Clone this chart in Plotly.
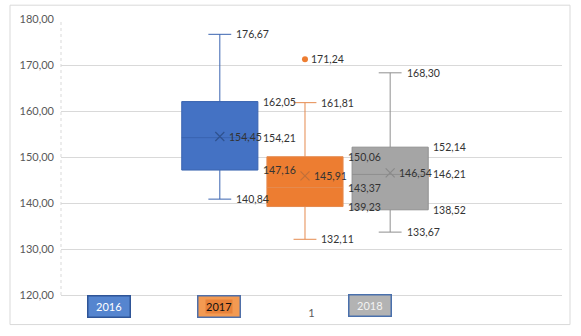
import plotly.graph_objects as go

# ---- data ----
series_names = ["2016", "2017", "2018"]
category = ["1"]
upper_whisker = [176.67, 161.81, 168.30]
q3_values = [162.05, 150.06, 152.14]
median_values = [154.21, 143.37, 146.21]
mean_values = [154.45, 145.91, 146.54]
q1_values = [147.16, 139.23, 138.52]
lower_whisker = [140.84, 132.11, 133.67]
outlier_series = ["2017"]
outlier_values = [171.24]
y_ticks = [120, 130, 140, 150, 160, 170, 180]

# ---- styles / layout ----
fill_colors = ["#4472C4", "#ED7D31", "#A5A5A5"]
line_colors = ["#3A64B0", "#E58A4E", "#8F8F8F"]
mean_colors = ["#2F528F", "#C0703A", "#8A8A8A"]
offsets = [-0.17, 0.0, 0.17]
group_center = -0.013
box_width = 0.152
whisker_frac = 0.3
FONT = "Lato"
LABEL_COLOR = "#333333"
LABEL_SIZE = 10.5

def fmt(v):
    return f"{v:.2f}".replace(".", ",")

fig = go.Figure()
annotations = []

for i, name in enumerate(series_names):
    cx = group_center + offsets[i]
    fig.add_trace(go.Box(
        x=[cx], q1=[q1_values[i]], median=[median_values[i]], q3=[q3_values[i]],
        lowerfence=[lower_whisker[i]], upperfence=[upper_whisker[i]],
        name=name, width=box_width, whiskerwidth=whisker_frac,
        fillcolor=fill_colors[i], line=dict(color=line_colors[i], width=1),
        boxpoints=False, showlegend=False, hoverinfo="skip",
    ))
    fig.add_trace(go.Scatter(
        x=[cx], y=[mean_values[i]], mode="markers",
        marker=dict(symbol="x-thin", size=9, line=dict(color=mean_colors[i], width=1.2)),
        showlegend=False, hoverinfo="skip",
    ))
    box_right = cx + box_width / 2
    cap_right = cx + box_width * whisker_frac / 2
    for v in (upper_whisker[i], lower_whisker[i]):
        annotations.append(dict(x=cap_right, y=v, xref="x", yref="y", text=fmt(v),
                                xanchor="left", yanchor="middle", xshift=3, showarrow=False))
    for v in (q3_values[i], median_values[i], q1_values[i]):
        annotations.append(dict(x=box_right, y=v, xref="x", yref="y", text=fmt(v),
                                xanchor="left", yanchor="middle", xshift=3, showarrow=False))
    annotations.append(dict(x=cx, y=mean_values[i], xref="x", yref="y", text=fmt(mean_values[i]),
                            xanchor="left", yanchor="middle", xshift=7, showarrow=False))

for name, v in zip(outlier_series, outlier_values):
    i = series_names.index(name)
    cx = group_center + offsets[i]
    fig.add_trace(go.Scatter(
        x=[cx], y=[v], mode="markers",
        marker=dict(symbol="circle", size=6, color=fill_colors[i]),
        showlegend=False, hoverinfo="skip",
    ))
    annotations.append(dict(x=cx, y=v, xref="x", yref="y", text=fmt(v),
                            xanchor="left", yanchor="middle", xshift=4, showarrow=False))

# legend boxes (Excel-style)
L, R, T, B = 61, 562, 15, 295
W, H = R - L, B - T
def px_x(p):
    return (p - L) / W
def px_y(p):
    return (B - p) / H

legend_specs = [
    (108.5, 307, "#5585CF", "#2F5597", "#FFFFFF"),
    (218.5, 307, "#F39A52", "#4F6FA8", "#111111"),
    (369.5, 305.5, "#B3B3B3", "#4A70AC", "#F2F2F2"),
]
for name, (x, y, bg, bd, tc) in zip(series_names, legend_specs):
    annotations.append(dict(x=px_x(x), y=px_y(y), xref="paper", yref="paper", text="",
                            width=41, height=20, bgcolor=bg, bordercolor=bd, borderwidth=1.5,
                            borderpad=0, showarrow=False, xanchor="center", yanchor="middle"))
    inner_bg = "#E8823A" if name == "2017" else "rgba(0,0,0,0)"
    annotations.append(dict(x=px_x(x), y=px_y(y), xref="paper", yref="paper", text=name,
                            bgcolor=inner_bg, borderpad=0,
                            font=dict(family=FONT, size=11, color=tc),
                            showarrow=False, xanchor="center", yanchor="middle"))

for a in annotations:
    a.setdefault("font", dict(family=FONT, size=LABEL_SIZE, color=LABEL_COLOR))

shapes = [
    dict(type="rect", xref="paper", yref="paper",
         x0=px_x(10), x1=px_x(570), y0=px_y(325), y1=px_y(1),
         line=dict(color="#D9D9D9", width=1), layer="below"),
    dict(type="line", xref="paper", yref="paper",
         x0=0, x1=0, y0=0, y1=1, line=dict(color="#D9D9D9", width=1, dash="dot"), layer="below"),
]

fig.update_layout(
    width=581, height=336,
    margin=dict(l=L, r=581 - R, t=T, b=336 - B),
    paper_bgcolor="white", plot_bgcolor="white",
    separators=",.",
    font=dict(family=FONT, size=11, color="#595959"),
    annotations=annotations,
    shapes=shapes,
    xaxis=dict(range=[-0.5, 0.5], tickvals=[0], ticktext=category, showgrid=False,
               zeroline=False, showline=True, linecolor="#D9D9D9", linewidth=1,
               ticklabelstandoff=8, tickfont=dict(family=FONT, size=11, color="#595959"),
               fixedrange=True),
    yaxis=dict(range=[120, 180], tickvals=y_ticks, tickformat=".2f", showgrid=True,
               gridcolor="#D9D9D9", gridwidth=1, zeroline=False, showline=False,
               ticklabelstandoff=6, tickfont=dict(family=FONT, size=11, color="#595959"),
               fixedrange=True),
    showlegend=False,
)

fig.write_html(
    "out.html",
    config={"displayModeBar": False, "staticPlot": True},
    post_script="document.documentElement.style.margin='0';document.body.style.margin='0';"
                "document.body.style.padding='0';document.body.style.overflow='hidden';",
)
